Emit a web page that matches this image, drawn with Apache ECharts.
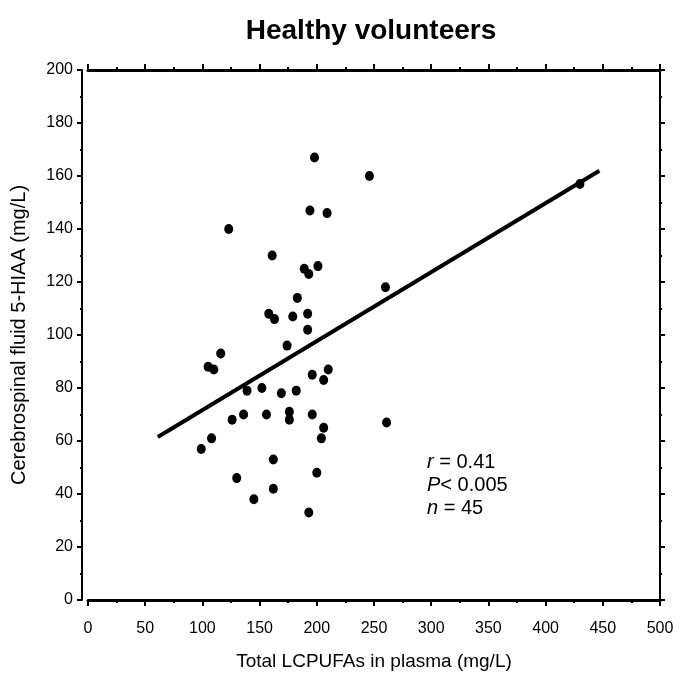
<!DOCTYPE html>
<html>
<head>
<meta charset="utf-8">
<script src="https://cdn.jsdelivr.net/npm/echarts@6/dist/echarts.min.js"></script>
<style>
html,body{margin:0;padding:0;background:#fff;}
#chart{width:681px;height:676px;}
</style>
</head>
<body>
<div id="chart"></div>
<script>
// ---- Data ----
const chartTitle = 'Healthy volunteers';
const xAxisTitle = 'Total LCPUFAs in plasma (mg/L)';
const yAxisTitle = 'Cerebrospinal fluid 5-HIAA (mg/L)';

const xTicks = [0, 50, 100, 150, 200, 250, 300, 350, 400, 450, 500];
const yTicks = [0, 20, 40, 60, 80, 100, 120, 140, 160, 180, 200];

// Total LCPUFAs in plasma (mg/L)
const plasmaLCPUFA = [
  198, 246, 194, 209, 123, 161, 189, 201, 193, 260,
  183, 158, 163, 179, 192, 192, 174, 116, 105, 110,
  196, 210, 206, 139, 152, 169, 182, 126, 136, 156,
  176, 176, 196, 206, 261, 108, 99, 204, 162, 130,
  200, 162, 145, 193, 430
];
// Cerebrospinal fluid 5-HIAA (mg/L)
const csfHIAA = [
  167, 160, 147, 146, 140, 130, 125, 126, 123, 118,
  114, 108, 106, 107, 108, 102, 96, 93, 88, 87,
  85, 87, 83, 79, 80, 78, 79, 68, 70, 70,
  71, 68, 70, 65, 67, 61, 57, 61, 53, 46,
  48, 42, 38, 33, 157
];

// Regression line end points
const fitX = [61, 447];
const fitY = [61.5, 162];

const statLines = [
  {v: 'r', t: ' = 0.41'},
  {v: 'P', t: '< 0.005'},
  {v: 'n', t: ' = 45'}
];

// ---- Chart ----
const FONT = '"Liberation Sans", Arial, Helvetica, sans-serif';
const chart = echarts.init(document.getElementById('chart'), null, {renderer: 'canvas'});

const points = plasmaLCPUFA.map((x, i) => [x, csfHIAA[i]]);
const fitLine = fitX.map((x, i) => [x, fitY[i]]);

function xAxisCfg(pos, showLabel) {
  return {
    type: 'value', position: pos,
    min: xTicks[0], max: xTicks[xTicks.length - 1], interval: xTicks[1] - xTicks[0],
    axisLine: {show: true, onZero: false, lineStyle: {color: '#000', width: 3}},
    axisTick: {show: true, inside: false, length: 6, lineStyle: {color: '#000', width: 2}},
    minorTick: {show: true, splitNumber: 2, length: 3, lineStyle: {color: '#000', width: 2}},
    splitLine: {show: false}, minorSplitLine: {show: false},
    axisLabel: {show: showLabel, color: '#000', fontSize: 16, fontFamily: FONT, margin: 21},
    name: showLabel ? xAxisTitle : '',
    nameLocation: 'middle', nameGap: 52,
    nameTextStyle: {color: '#000', fontSize: 19, fontFamily: FONT}
  };
}
function yAxisCfg(pos, showLabel, offset) {
  return {
    type: 'value', position: pos, offset: offset,
    min: yTicks[0], max: yTicks[yTicks.length - 1], interval: yTicks[1] - yTicks[0],
    axisLine: {show: true, onZero: false, lineStyle: {color: '#000', width: 2}},
    axisTick: {show: true, inside: false, length: 5, lineStyle: {color: '#000', width: 2}},
    minorTick: {show: true, splitNumber: 2, length: 2, lineStyle: {color: '#000', width: 2}},
    splitLine: {show: false}, minorSplitLine: {show: false},
    axisLabel: {show: showLabel, color: '#000', fontSize: 16, fontFamily: FONT, margin: 9},
    name: showLabel ? yAxisTitle : '',
    nameLocation: 'middle', nameGap: 53, nameRotate: 90,
    nameTextStyle: {color: '#000', fontSize: 20, fontFamily: FONT}
  };
}

const statText = statLines.map((s, i) => ({
  type: 'text',
  left: 427, top: 452 + i * 23,
  style: {
    text: '{i|' + s.v + '}{n|' + s.t + '}',
    rich: {
      i: {fontStyle: 'italic', fontSize: 20, fontFamily: FONT, fill: '#000'},
      n: {fontSize: 20, fontFamily: FONT, fill: '#000'}
    }
  }
}));

chart.setOption({
  backgroundColor: '#fff',
  animation: false,
  title: {
    text: chartTitle, left: 366, top: 12, textAlign: 'center',
    textStyle: {color: '#000', fontSize: 28, fontWeight: 'bold', fontFamily: FONT}
  },
  grid: {left: 88, right: 21, top: 70, bottom: 75, containLabel: false},
  xAxis: [xAxisCfg('bottom', true), xAxisCfg('top', false)],
  yAxis: [yAxisCfg('left', true, 6), yAxisCfg('right', false, 0)],
  graphic: statText,
  series: [
    {
      type: 'line', data: fitLine, xAxisIndex: 0, yAxisIndex: 0,
      symbol: 'none', lineStyle: {color: '#000', width: 4}, silent: true, z: 2
    },
    {
      type: 'scatter', data: points, xAxisIndex: 0, yAxisIndex: 0,
      symbol: 'circle', symbolSize: [9, 10],
      itemStyle: {color: '#000', opacity: 1}, z: 3
    }
  ]
});
</script>
</body>
</html>
